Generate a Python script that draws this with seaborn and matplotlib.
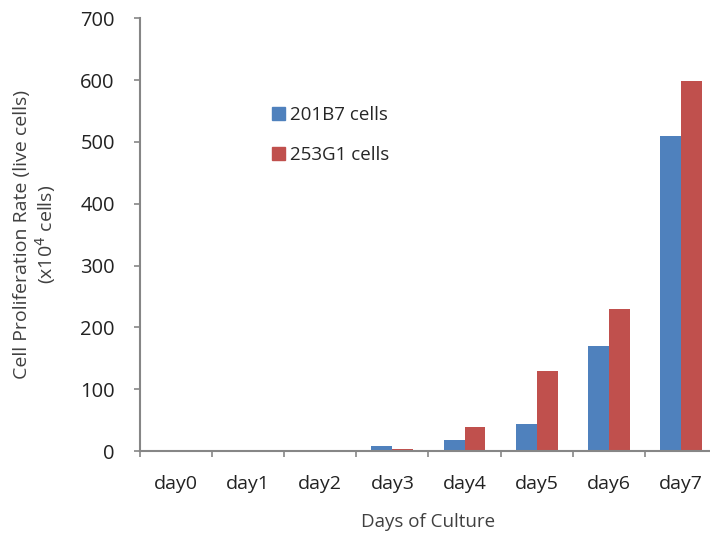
import pandas as pd
import numpy as np
import seaborn as sns
import matplotlib.pyplot as plt
from matplotlib.patches import Patch

# Data
days = ['day0', 'day1', 'day2', 'day3', 'day4', 'day5', 'day6', 'day7']
cells_201B7 = [0, 0, 0, 8, 18, 43, 170, 509]
cells_253G1 = [0, 0, 0, 3, 39, 129, 229, 598]
series = ['201B7 cells', '253G1 cells']
colors = ['#4F81BD', '#C0504D']

df = pd.DataFrame({
    'day': days * 2,
    'count': cells_201B7 + cells_253G1,
    'line': [series[0]] * len(days) + [series[1]] * len(days),
})

sns.set_style('white')
plt.rcParams['font.family'] = ['Open Sans', 'DejaVu Sans']

fig = plt.figure(figsize=(7.1, 5.35), dpi=100)
ax = fig.add_axes([0.197, 0.157, 0.813, 0.809])

sns.barplot(data=df, x='day', y='count', hue='line', palette=colors,
            width=0.58, saturation=1, legend=False, ax=ax, linewidth=0)

ax.set_xlim(-0.5, 7.5)
ax.set_ylim(0, 700)
ax.set_yticks(range(0, 701, 100))

gray = '#868686'
for s in ['top', 'right']:
    ax.spines[s].set_visible(False)
for s in ['left', 'bottom']:
    ax.spines[s].set_color(gray)
    ax.spines[s].set_linewidth(1.5)

# Excel-style ticks between categories
ax.set_xticks(np.arange(-0.5, 8, 1), minor=True)
ax.tick_params(axis='x', which='major', bottom=True, length=0, pad=17,
               labelsize=14, labelcolor='#222222')
ax.tick_params(axis='x', which='minor', bottom=True, direction='out',
               length=4, width=1.2, color=gray)
ax.tick_params(axis='y', left=True, direction='out', length=4, width=1.2, color=gray,
               pad=14, labelsize=14.5, labelcolor='#222222')

ax.set_xlabel('Days of Culture', fontsize=13.5, color='#404040', labelpad=15)
ax.set_ylabel('Cell Proliferation Rate (live cells)\n(x10$^4$ cells)',
              fontsize=14, color='#404040', labelpad=16, linespacing=1.1)

handles = [Patch(color=c) for c in colors]
ax.legend(handles, series, loc='upper left', bbox_to_anchor=(0.2, 0.835),
          frameon=False, fontsize=13.5, handlelength=0.7, handleheight=0.7,
          handletextpad=0.25, labelspacing=1.15)

fig.savefig('out.png', dpi=100)
